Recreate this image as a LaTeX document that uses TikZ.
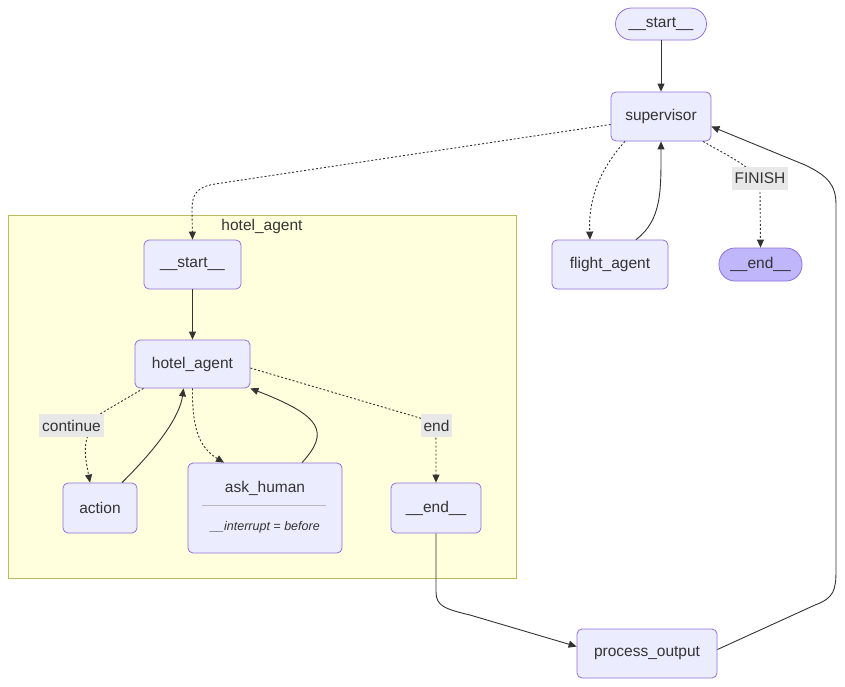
\documentclass[tikz,border=0pt]{standalone}
\usepackage{fontspec}
\setmainfont{Liberation Sans}
\usetikzlibrary{arrows.meta}
\definecolor{nodefill}{HTML}{ECECFF}
\definecolor{nodeborder}{HTML}{9370DB}
\definecolor{txt}{HTML}{333333}
\definecolor{clfill}{HTML}{FFFFDE}
\definecolor{clborder}{HTML}{AAAA33}
\definecolor{lblbg}{HTML}{E8E8E8}
\definecolor{endfill}{HTML}{BFB6FC}
\begin{document}
\begin{tikzpicture}[x=1pt,y=-1pt,
  font=\fontsize{15.5}{18}\selectfont,
  box/.style={draw=nodeborder,fill=nodefill,rounded corners=5pt,text=txt,line width=0.8pt,inner sep=0pt},
  pill/.style={draw=nodeborder,fill=nodefill,rounded corners=16pt,text=txt,line width=0.8pt,inner sep=0pt},
  lbl/.style={fill=lblbg,text=txt,inner sep=3pt,minimum height=23pt},
  edge/.style={draw=txt,line width=0.9pt,-{Triangle[length=8pt,width=7pt]}},
  dedge/.style={edge,dash pattern=on 2pt off 2pt}]
\path[use as bounding box,fill=white] (0,0) rectangle (845,686);
% cluster
\node[draw=clborder!80!white,fill=clfill,line width=0.8pt,minimum width=508pt,minimum height=363pt,inner sep=0pt] (cluster) at (262,396.5) {};
\node[text=txt] (cltitle) at (262,226) {hotel\_agent};
% nodes
\node[pill,minimum width=91pt,minimum height=32pt] (start) at (661,24) {\_\_start\_\_};
\node[box,minimum width=100pt,minimum height=49pt] (sup) at (661,116.5) {supervisor};
\node[box,minimum width=116pt,minimum height=49pt] (flight) at (610,264.5) {flight\_agent};
\node[pill,fill=endfill,minimum width=83pt,minimum height=33pt] (endtop) at (760.5,264.5) {\_\_end\_\_};
\node[box,minimum width=97pt,minimum height=49pt] (istart) at (192.5,264.5) {\_\_start\_\_};
\node[box,minimum width=115pt,minimum height=48pt] (hotel) at (192.5,364) {hotel\_agent};
\node[box,minimum width=74pt,minimum height=50pt] (action) at (100,508) {action};
\node[box,minimum width=154pt,minimum height=90pt] (ask) at (265,508) {};
\node[text=txt] (asktitle) at (265,488) {ask\_human};
\draw[draw=lightgray!90!gray,line width=0.8pt] (202,505) -- (326,505);
\node[text=txt,font=\fontsize{12.5}{14}\selectfont\itshape] (asknote) at (265,527) {\_\_interrupt = before};
\node[box,minimum width=90pt,minimum height=50pt] (iend) at (436,508) {\_\_end\_\_};
\node[box,minimum width=140pt,minimum height=49pt] (proc) at (647,653.5) {process\_output};
% edges
\draw[edge] (start) -- (sup);
\draw[dedge] ([yshift=-8pt]sup.west) -- (215,184) .. controls (196,187) and (192,195) .. (192,210) -- (istart.north);
\draw[dedge] ([xshift=-36pt]sup.south) .. controls (590,180) and (589,215) .. ([xshift=-20pt]flight.north);
\draw[edge] ([xshift=26pt]flight.north) .. controls (662,220) and (661,190) .. (sup.south);
\draw[dedge] ([xshift=42pt]sup.south) .. controls (735,160) and (760,170) .. (760,190) -- (endtop.north);
\draw[edge] (istart) -- (hotel);
\draw[dedge] ([xshift=-49pt]hotel.south) -- (100,414) .. controls (80,440) and (85,455) .. ([xshift=-10pt]action.north);
\draw[edge] ([xshift=22pt]action.north) .. controls (160,445) and (180,415) .. ([xshift=-9pt]hotel.south);
\draw[dedge] (hotel.south) .. controls (192,430) and (200,448) .. ([xshift=-41pt]ask.north);
\draw[edge] ([xshift=37pt]ask.north) .. controls (330,432) and (322,416) .. (hotel.south east);
\draw[dedge] ([yshift=-4pt]hotel.east) -- (420,418) .. controls (436,425) and (436,430) .. (436,445) -- (iend.north);
\draw[edge] (iend.south) -- (436,592) .. controls (436,606) and (445,609) .. (470,615) -- ([yshift=7pt]proc.west);
\draw[edge] ([yshift=4pt]proc.east) -- (815,605) .. controls (834,598) and (836,590) .. (836,570) -- (836,205) .. controls (836,185) and (828,176) .. (805,165) -- ([yshift=-10pt]sup.east);
% labels
\node[lbl] (lfinish) at (760,178.5) {FINISH};
\node[lbl] (lcont) at (71.5,425.5) {continue};
\node[lbl] (lend) at (436.5,425.5) {end};
\end{tikzpicture}
\end{document}
